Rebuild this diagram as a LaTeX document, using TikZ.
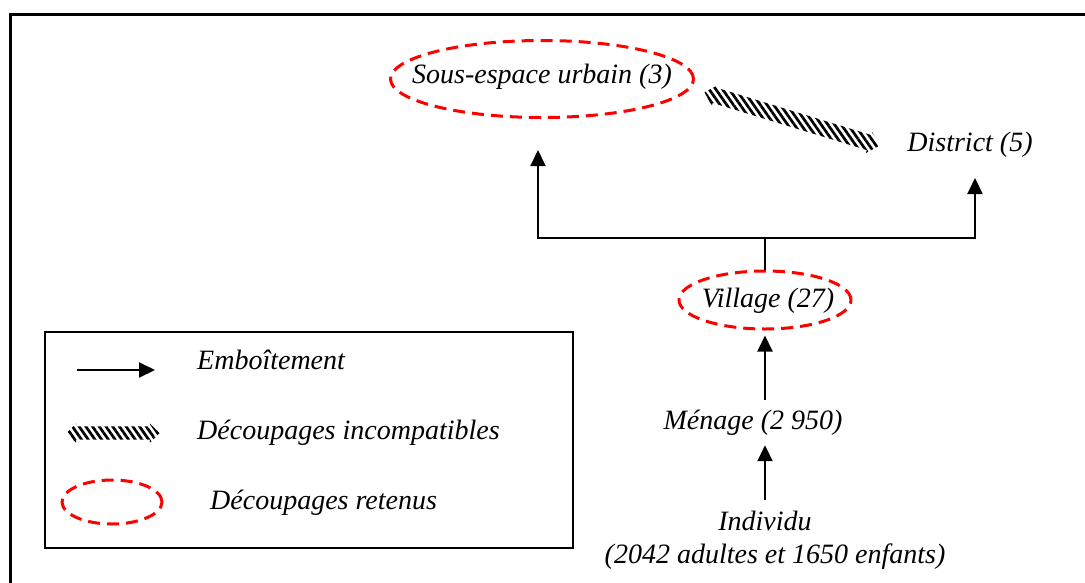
\documentclass[tikz,border=0pt]{standalone}
\usepackage{fontspec}
\setmainfont{Liberation Serif}
\usetikzlibrary{arrows.meta,shapes.geometric,shapes.arrows,patterns.meta}
\begin{document}
\begin{tikzpicture}[x=1pt,y=-1pt,
  lab/.style={font=\fontsize{28}{32}\selectfont\itshape,inner sep=2pt,text height=20pt,text depth=6pt},
  nest/.style={line width=2pt,-{Triangle[width=15pt,length=16pt]}},
  kept/.style={ellipse,draw=red,line width=3pt,dash pattern=on 12pt off 7pt,inner sep=0pt},
  clash/.style={double arrow,draw=none,inner xsep=0pt,inner ysep=6.5pt,
    double arrow head extend=3pt,double arrow head indent=0pt,
    pattern={Lines[angle=-55,distance=5.5pt,line width=2.7pt]}}]
  \useasboundingbox (0,0) rectangle (1085,582);
  \clip (0,0) rectangle (1085,582);
  \draw[line width=3pt] (10,600) -- (10,14) -- (1100,14);

  \node[kept,minimum width=303pt,minimum height=77pt] (suburb) at (542,79) {};
  \node[lab] (suburbtxt) at (542,76) {Sous-espace urbain (3)};
  \node[lab] (district) at (970,144) {District (5)};
  \node[clash,minimum height=183pt,rotate=-17] (clashtop) at (792,119) {};
  \node[kept,minimum width=172pt,minimum height=58pt] (village) at (765,300) {};
  \node[lab] (villagetxt) at (768,300) {Village (27)};
  \node[lab] (menage) at (753,422) {Ménage (2 950)};
  \node[lab] (individu) at (765,523) {Individu};
  \node[lab] (effectif) at (775,556) {(2042 adultes et 1650 enfants)};

  \coordinate (fork) at (765,238);
  \coordinate (tipL) at (538,150);
  \coordinate (tipR) at (975,178);
  \draw[line width=2pt] (village.north) -- (fork);
  \draw[nest] (fork) -| (tipL);
  \draw[nest] (fork) -| (tipR);
  \draw[nest,shorten <=7pt,shorten >=5pt] (menage.north -| village.south) -- (village.south);
  \draw[nest,shorten <=8pt,shorten >=8pt] (individu.north) -- (menage.south -| individu.north);

  \draw[line width=2pt] (45,332) rectangle (573,548);
  \coordinate (keyA) at (77,370);
  \coordinate (keyB) at (155,370);
  \draw[nest] (keyA) -- (keyB);
  \node[lab,anchor=west] (keynest) at (195,362) {Emboîtement};
  \node[clash,minimum height=93pt] (keyclash) at (113,433) {};
  \node[lab,anchor=west] (keyclashtxt) at (195,432) {Découpages incompatibles};
  \node[kept,minimum width=100pt,minimum height=44pt] (keykept) at (112,502) {};
  \node[lab,anchor=west] (keykepttxt) at (208,502) {Découpages retenus};
\end{tikzpicture}
\end{document}
